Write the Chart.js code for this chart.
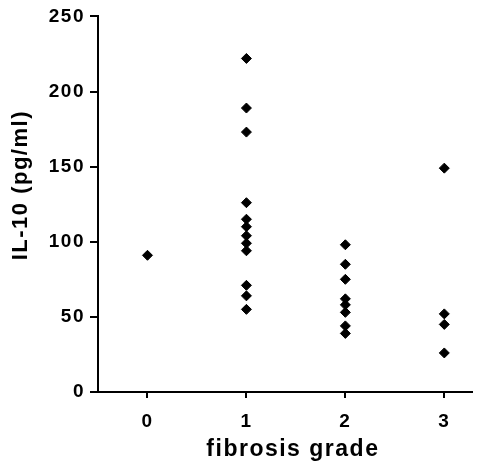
<!DOCTYPE html>
<html>
<head>
<meta charset="utf-8">
<script src="https://cdn.jsdelivr.net/npm/chart.js@4/dist/chart.umd.min.js"></script>
<style>
  html, body { margin: 0; padding: 0; background: #ffffff; }
  #wrap { width: 487px; height: 475px; position: relative; }
</style>
</head>
<body>
<div id="wrap"><canvas id="c" width="487" height="475"></canvas></div>
<script>
// ---- data ----
const grades = [0, 1, 2, 3];
const xTickLabels = ['0', '1', '2', '3'];
const yTickValues = [0, 50, 100, 150, 200, 250];
const grade0Values = [91];
const grade1Values = [222, 189, 173, 126, 115, 110, 104, 99, 94, 71, 64, 55];
const grade2Values = [98, 85, 75, 62, 58, 53, 44, 39];
const grade3Values = [149, 52, 45, 26];
const xTitle = 'fibrosis grade';
const yTitle = 'IL-10 (pg/ml)';

const groups = [grade0Values, grade1Values, grade2Values, grade3Values];
const points = [];
groups.forEach((vals, i) => vals.forEach(v => points.push({ x: grades[i], y: v })));

const FONT = "'Liberation Sans', Arial, sans-serif";

const spacingPlugin = {
  id: 'spacing',
  beforeDraw(chart) { chart.ctx.letterSpacing = '1.5px'; }
};

new Chart(document.getElementById('c'), {
  type: 'scatter',
  data: {
    datasets: [{
      data: points,
      pointStyle: 'rectRot',
      pointRadius: 5,
      pointHoverRadius: 5,
      backgroundColor: '#000000',
      borderColor: '#000000',
      borderWidth: 1
    }]
  },
  options: {
    responsive: false,
    animation: false,
    devicePixelRatio: 1,
    layout: { padding: { top: 15, right: 15, left: 0, bottom: 0 } },
    plugins: { legend: { display: false }, tooltip: { enabled: false } },
    scales: {
      x: {
        type: 'linear',
        min: -0.5,
        max: 3.28,
        afterBuildTicks(scale) { scale.ticks = grades.map(v => ({ value: v })); },
        afterFit(scale) { scale.height = 83; },
        ticks: {
          color: '#000',
          padding: 12,
          font: { family: FONT, size: 19, weight: 'bold' },
          callback(v) { const i = grades.indexOf(v); return i >= 0 ? xTickLabels[i] : ''; }
        },
        grid: { display: true, drawOnChartArea: false, drawTicks: true, tickLength: 6, color: '#000', lineWidth: 2 },
        border: { display: true, color: '#000', width: 2 },
        title: {
          display: true, text: '  ' + xTitle, color: '#000',
          font: { family: FONT, size: 23, weight: 'bold' },
          padding: { top: 0, bottom: 12 }
        }
      },
      y: {
        type: 'linear',
        min: 0,
        max: 250,
        afterBuildTicks(scale) { scale.ticks = yTickValues.map(v => ({ value: v })); },
        afterFit(scale) { scale.width = 98; },
        ticks: {
          color: '#000',
          padding: 5,
          font: { family: FONT, size: 19, weight: 'bold' }
        },
        grid: { display: true, drawOnChartArea: false, drawTicks: true, tickLength: 8, color: '#000', lineWidth: 2 },
        border: { display: true, color: '#000', width: 2 },
        title: {
          display: true, text: '     ' + yTitle, color: '#000',
          font: { family: FONT, size: 22, weight: 'bold' },
          padding: { top: 8, bottom: 0 }
        }
      }
    }
  },
  plugins: [spacingPlugin]
});
</script>
</body>
</html>
